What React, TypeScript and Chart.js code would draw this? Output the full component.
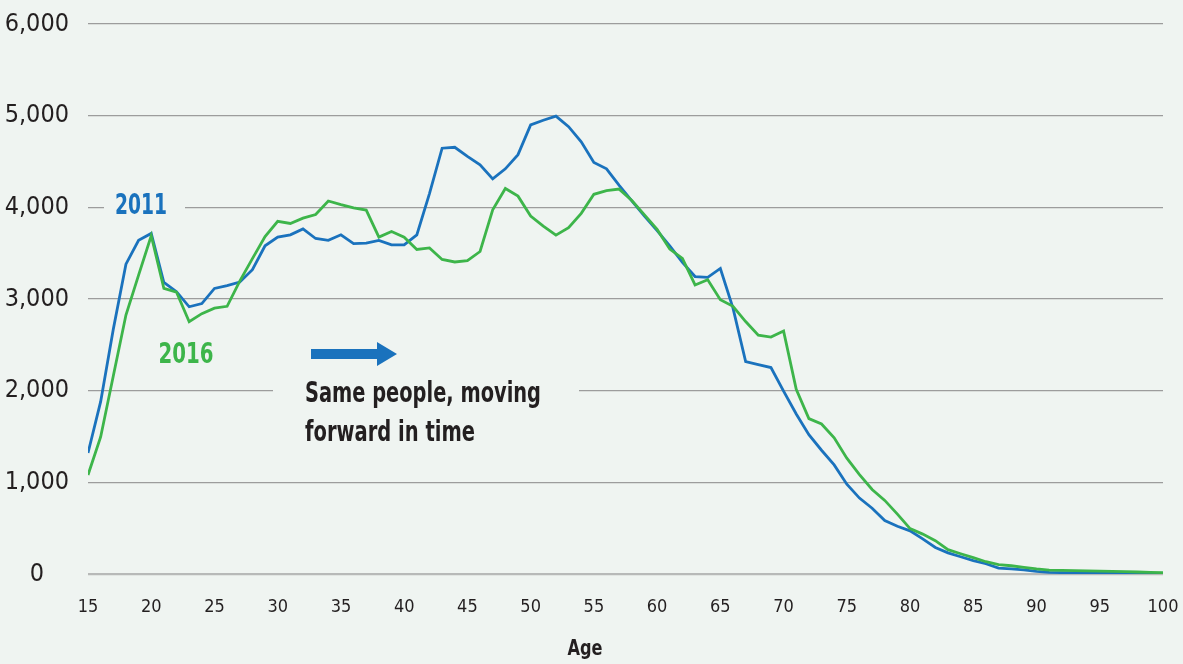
import React, { useEffect, useRef } from "react";
import { Chart, registerables } from "chart.js";

Chart.register(...registerables);

const ages = [
  15, 16, 17, 18, 19, 20, 21, 22, 23, 24, 25, 26, 27, 28, 29, 30, 31, 32, 33, 34,
  35, 36, 37, 38, 39, 40, 41, 42, 43, 44, 45, 46, 47, 48, 49, 50, 51, 52, 53, 54,
  55, 56, 57, 58, 59, 60, 61, 62, 63, 64, 65, 66, 67, 68, 69, 70, 71, 72, 73, 74,
  75, 76, 77, 78, 79, 80, 81, 82, 83, 84, 85, 86, 87, 88, 89, 90, 91, 92, 93, 94,
  95, 96, 97, 98, 99, 100,
];

const values2011 = [
  1320, 1880, 2670, 3380, 3640, 3715, 3180, 3080, 2915, 2950,
  3115, 3145, 3185, 3320, 3580, 3675, 3700, 3765, 3660, 3640,
  3700, 3605, 3610, 3640, 3590, 3590, 3700, 4150, 4645, 4655,
  4555, 4465, 4310, 4420, 4575, 4900, 4950, 4995, 4880, 4715,
  4490, 4420, 4240, 4070, 3905, 3745, 3580, 3400, 3245, 3237,
  3333, 2900, 2317, 2285, 2252, 1995, 1745, 1520, 1350, 1190,
  980, 828, 717, 584, 521, 471, 384, 290, 231, 188,
  147, 112, 64, 57, 46, 29, 18, 15, 13, 12,
  10, 9, 8, 7, 6, 5,
];

const values2016 = [
  1080, 1495, 2160, 2825, 3260, 3690, 3115, 3075, 2752, 2840,
  2900, 2920, 3195, 3440, 3680, 3847, 3824, 3882, 3921, 4069,
  4030, 3995, 3970, 3675, 3737, 3675, 3540, 3557, 3431, 3404,
  3418, 3518, 3973, 4205, 4122, 3905, 3795, 3696, 3778, 3934,
  4142, 4182, 4199, 4074, 3917, 3759, 3545, 3443, 3153, 3210,
  2993, 2921, 2754, 2605, 2585, 2650, 2016, 1695, 1636, 1486,
  1263, 1085, 922, 803, 653, 495, 435, 364, 265, 221,
  178, 134, 103, 90, 73, 56, 43, 40, 37, 34,
  31, 28, 25, 22, 18, 15,
];

const seriesNames = ["2016", "2011"];
const xAxisTitle = "Age";
const annotationLines = ["Same people, moving", "forward in time"];

const BG = "#eff4f1";
const BLUE = "#1a72bd";
const GREEN = "#3db54a";
const TEXT = "#231f20";
const FONT = "'DejaVu Sans Condensed', 'Liberation Sans Narrow', 'Open Sans', sans-serif";

function drawFitted(
  ctx: CanvasRenderingContext2D,
  text: string,
  x: number,
  y: number,
  align: "left" | "center",
  targetWidth: number
) {
  const w = ctx.measureText(text).width;
  const sx = w > 0 ? targetWidth / w : 1;
  ctx.save();
  ctx.translate(x, y);
  ctx.scale(sx, 1);
  ctx.textAlign = align;
  ctx.fillText(text, 0, 0);
  ctx.restore();
}

const annotationPlugin = {
  id: "annotations",
  beforeDraw(chart: any) {
    const { ctx, width, height } = chart;
    ctx.save();
    ctx.fillStyle = BG;
    ctx.fillRect(0, 0, width, height);
    ctx.restore();
  },
  beforeDatasetsDraw(chart: any) {
    const { ctx } = chart;
    ctx.save();
    // gaps in gridlines behind labels
    ctx.fillStyle = BG;
    ctx.fillRect(104, 200, 81, 14);
    ctx.fillRect(273, 383, 306, 14);

    ctx.textBaseline = "alphabetic";
    ctx.font = `bold 29px ${FONT}`;
    ctx.fillStyle = BLUE;
    drawFitted(ctx, seriesNames[1], 141, 214, "center", 52);
    ctx.fillStyle = GREEN;
    drawFitted(ctx, seriesNames[0], 186, 363, "center", 55);

    // arrow
    ctx.fillStyle = BLUE;
    ctx.beginPath();
    ctx.moveTo(311, 349);
    ctx.lineTo(377, 349);
    ctx.lineTo(377, 342);
    ctx.lineTo(397, 354);
    ctx.lineTo(377, 366);
    ctx.lineTo(377, 359);
    ctx.lineTo(311, 359);
    ctx.closePath();
    ctx.fill();

    ctx.fillStyle = TEXT;
    ctx.font = `bold 28px ${FONT}`;
    drawFitted(ctx, annotationLines[0], 305, 402, "left", 236);
    drawFitted(ctx, annotationLines[1], 305, 441, "left", 170);

    ctx.font = `bold 21px ${FONT}`;
    drawFitted(ctx, xAxisTitle, 585, 655, "center", 35);
    ctx.restore();
  },
};

export default function App() {
  const canvasRef = useRef<HTMLCanvasElement | null>(null);

  useEffect(() => {
    document.body.style.margin = "0";
    document.body.style.background = BG;
    const canvas = canvasRef.current;
    if (!canvas) return;
    const chart = new Chart(canvas, {
      type: "line",
      data: {
        datasets: [
          {
            label: seriesNames[0],
            data: ages.map((a, i) => ({ x: a, y: values2016[i] })),
            borderColor: GREEN,
            borderWidth: 2.8,
            pointRadius: 0,
            tension: 0,
            fill: false,
          },
          {
            label: seriesNames[1],
            data: ages.map((a, i) => ({ x: a, y: values2011[i] })),
            borderColor: BLUE,
            borderWidth: 2.8,
            pointRadius: 0,
            tension: 0,
            fill: false,
          },
        ],
      },
      options: {
        responsive: false,
        animation: false,
        devicePixelRatio: 1,
        layout: { padding: { top: 24, right: 20, left: 0, bottom: 0 } },
        plugins: {
          legend: { display: false },
          tooltip: { enabled: false },
          title: { display: false },
        },
        scales: {
          x: {
            type: "linear",
            min: 15,
            max: 100,
            grid: { display: false, drawTicks: false },
            border: { display: false },
            ticks: {
              stepSize: 5,
              padding: 23,
              color: TEXT,
              font: { family: FONT, size: 18 },
              maxRotation: 0,
            },
            afterFit(scale: any) {
              scale.height = 90;
              scale.paddingLeft = 0;
              scale.paddingRight = 0;
            },
          },
          y: {
            min: 0,
            max: 6000,
            grid: {
              drawTicks: false,
              color: (ctx: any) => (ctx.tick && ctx.tick.value === 0 ? "#b7b9b8" : "#9c9c9c"),
              lineWidth: (ctx: any) => (ctx.tick && ctx.tick.value === 0 ? 2.2 : 1.2),
            },
            border: { display: false },
            ticks: {
              stepSize: 1000,
              padding: 19,
              crossAlign: "center",
              color: TEXT,
              font: { family: FONT, size: 25 },
              callback: (v: any) => Number(v).toLocaleString("en-US"),
            },
            afterFit(scale: any) {
              scale.width = 88;
              scale.paddingTop = 0;
              scale.paddingBottom = 0;
            },
          },
        },
      },
      plugins: [annotationPlugin],
    });
    return () => chart.destroy();
  }, []);

  return (
    <div style={{ width: 1183, height: 664, background: BG }}>
      <canvas ref={canvasRef} width={1183} height={664} style={{ display: "block" }} />
    </div>
  );
}
